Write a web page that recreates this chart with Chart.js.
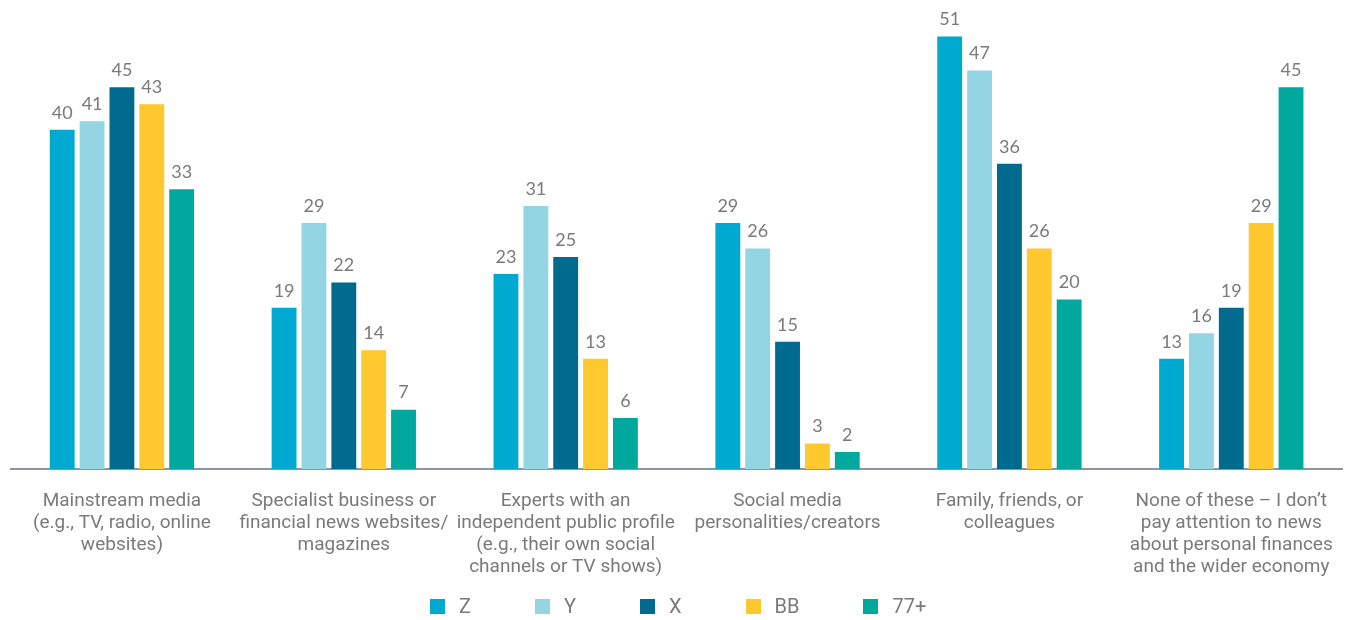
<!DOCTYPE html>
<html>
<head>
<meta charset="utf-8">
<script src="https://cdn.jsdelivr.net/npm/chart.js@4.4.0/dist/chart.umd.min.js"></script>
<style>
  html, body { margin: 0; padding: 0; background: #fff; }
  #wrap { width: 1354px; height: 603px; position: relative; }
  #legend { position: absolute; top: 594px; left: 430px; display: flex; font-family: Roboto, sans-serif; font-size: 20px; color: #7a7a7a; }
  #legend .item { display: flex; align-items: center; }
  #legend .box { width: 15px; height: 15px; margin-right: 14px; }
</style>
</head>
<body>
<div id="wrap"><canvas id="newsChart"></canvas></div>
<div id="legend"></div>
<script>
// === DATA ===
const categories = [
  ["Mainstream media", "(e.g., TV, radio, online", "websites)"],
  ["Specialist business or", "financial news websites/", "magazines"],
  ["Experts with an", "independent public profile", "(e.g., their own social", "channels or TV shows)"],
  ["Social media", "personalities/creators"],
  ["Family, friends, or", "colleagues"],
  ["None of these \u2013 I don\u2019t", "pay attention to news", "about personal finances", "and the wider economy"]
];
const seriesNames = ["Z", "Y", "X", "BB", "77+"];
const genZ = [40, 19, 23, 29, 51, 13];
const genY = [41, 29, 31, 26, 47, 16];
const genX = [45, 22, 25, 15, 36, 19];
const boomers = [43, 14, 13, 3, 26, 29];
const over77 = [33, 7, 6, 2, 20, 45];
const colors = ['#00a9d0', '#94d5e3', '#006b8f', '#ffc82e', '#00a89d'];

const textGrey = '#7a7a7a';
const labelFont = 'Roboto, "Open Sans", sans-serif';

// === VALUE LABEL PLUGIN ===
const valueLabels = {
  id: 'valueLabels',
  afterDatasetsDraw(chart) {
    const ctx = chart.ctx;
    ctx.save();
    ctx.font = '18px Lato, "Open Sans", sans-serif';
    ctx.fillStyle = textGrey;
    ctx.textAlign = 'center';
    ctx.textBaseline = 'bottom';
    chart.data.datasets.forEach((ds, i) => {
      chart.getDatasetMeta(i).data.forEach((bar, j) => {
        ctx.fillText(ds.data[j], bar.x, bar.y - 8);
      });
    });
    ctx.restore();
  }
};

// === CHART ===
const allSeries = [genZ, genY, genX, boomers, over77];
const ctx = document.getElementById('newsChart').getContext('2d');
new Chart(ctx, {
  type: 'bar',
  data: {
    labels: categories,
    datasets: allSeries.map((vals, i) => ({
      label: seriesNames[i],
      data: vals,
      backgroundColor: colors[i],
      categoryPercentage: 0.673,
      barPercentage: 0.833
    }))
  },
  options: {
    responsive: true,
    maintainAspectRatio: false,
    animation: false,
    layout: { padding: { top: 28, left: 11, right: 3, bottom: 4 } },
    scales: {
      x: {
        grid: { display: false, drawTicks: false },
        border: { display: true, color: '#8c96a0', width: 2 },
        ticks: {
          color: textGrey,
          font: { family: labelFont, size: 19, lineHeight: '22px' },
          padding: 21,
          maxRotation: 0,
          autoSkip: false
        }
      },
      y: {
        display: false,
        min: 0,
        max: 52
      }
    },
    plugins: {
      legend: { display: false },
      tooltip: { enabled: false }
    }
  },
  plugins: [valueLabels]
});

// === LEGEND ===
const legend = document.getElementById('legend');
const legendGaps = [64, 64, 64, 64, 0];
seriesNames.forEach((name, i) => {
  const item = document.createElement('div');
  item.className = 'item';
  item.style.marginRight = legendGaps[i] + 'px';
  item.innerHTML = '<span class="box" style="background:' + colors[i] + '"></span><span>' + name + '</span>';
  legend.appendChild(item);
});
</script>
</body>
</html>
